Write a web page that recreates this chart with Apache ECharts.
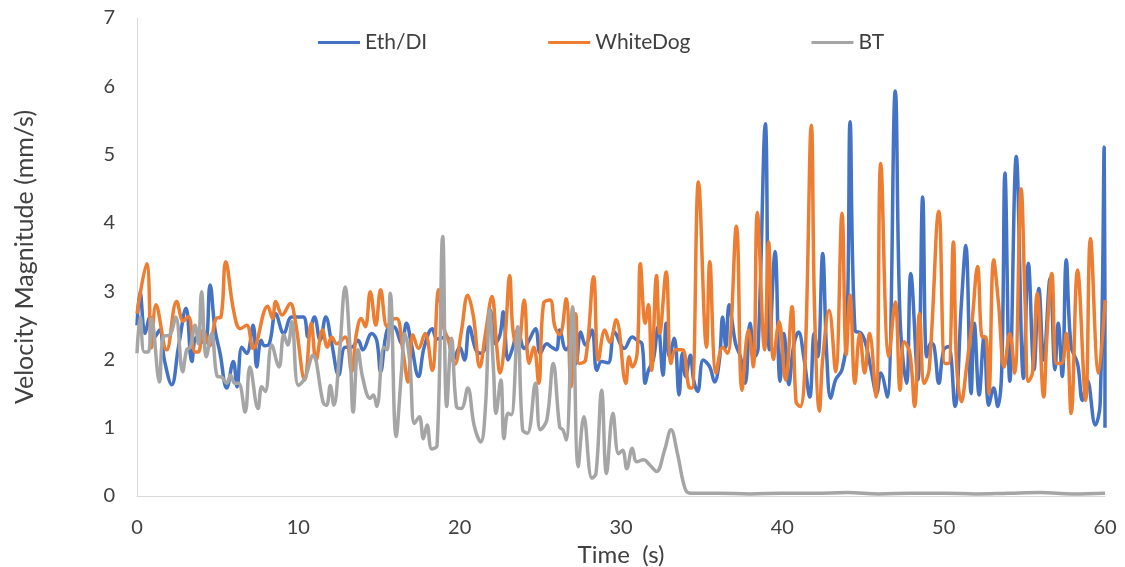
<!DOCTYPE html>
<html lang="en">
<head>
  <meta charset="UTF-8">
  <title>Velocity Magnitude</title>
  <script src="https://cdn.jsdelivr.net/npm/echarts@6/dist/echarts.min.js"></script>
  <style>
    * { margin: 0; padding: 0; }
    #chart { width: 1125px; height: 567px; background: #fff; }
  </style>
</head>
<body>
  <div id="chart"></div>
  <script>
    // [time (s), velocity (mm/s)]
    var ethDI = [
      [0, 2.5], [0.19, 2.99], [0.5, 2.38], [0.8, 2.62], [1.1, 2.33], [1.4, 2.43], [1.7, 1.99], [2.15, 1.63],
      [2.57, 2.18], [3.04, 2.75], [3.4, 1.97], [3.7, 2.33], [4.2, 2.23], [4.53, 3.09], [4.84, 2.43], [5.15, 2.09],
      [5.56, 1.58], [5.97, 1.97], [6.2, 1.6], [6.5, 2.18], [6.8, 2.09], [7.2, 2.5], [7.42, 1.89], [7.7, 2.28],
      [7.9, 2.2], [8.2, 2.23], [8.6, 2.67], [9.1, 2.38], [9.6, 2.62], [10.3, 2.62], [10.6, 2.33], [11.0, 2.62],
      [11.35, 2.28], [11.7, 2.62], [12.07, 2.23], [12.5, 1.77], [12.9, 2.18], [13.3, 2.18], [13.7, 2.28], [14.0, 2.14],
      [14.55, 2.38], [14.86, 2.28], [15.1, 1.82], [15.5, 2.43], [15.9, 2.48], [16.4, 2.23], [16.7, 2.53], [17.0, 2.23],
      [17.45, 1.75], [17.8, 2.18], [18.3, 2.45], [18.6, 2.3], [19.2, 2.33], [19.6, 1.99], [20.0, 2.18], [20.3, 1.99],
      [20.6, 2.48], [21.0, 2.14], [21.3, 2.09], [21.6, 2.18], [21.9, 2.72], [22.2, 2.23], [22.5, 2.36], [22.7, 2.7],
      [23.0, 1.99], [23.3, 2.18], [23.6, 2.43], [24.0, 2.16], [24.3, 2.28], [24.7, 2.45], [25.0, 2.09], [25.4, 2.23],
      [25.7, 2.18], [26.0, 2.14], [26.2, 2.43], [26.6, 2.14], [26.9, 2.23], [27.2, 1.94], [27.5, 2.4], [27.8, 2.21],
      [28.2, 2.43], [28.5, 1.84], [28.8, 1.97], [29.2, 1.95], [29.6, 2.4], [30.2, 2.16], [30.7, 2.33], [31.0, 2.28],
      [31.3, 2.23], [31.5, 1.65], [31.7, 1.84], [32.0, 1.99], [32.3, 2.48], [32.6, 1.77], [32.8, 2.53], [33.0, 2.04],
      [33.3, 2.31], [33.6, 1.48], [33.8, 2.09], [34.0, 1.75], [34.3, 2.06], [34.5, 1.7], [34.75, 1.53], [35.1, 1.99],
      [35.5, 1.89], [35.8, 1.67], [36.1, 1.99], [36.3, 2.62], [36.5, 2.18], [36.7, 2.8], [37.1, 2.23], [37.4, 2.04],
      [37.7, 1.65], [38.0, 2.53], [38.3, 2.04], [38.5, 2.16], [38.95, 5.45], [39.2, 2.14], [39.55, 3.58], [39.86, 1.68],
      [40.1, 2.38], [40.4, 1.63], [40.7, 2.2], [41.0, 2.4], [41.35, 2.0], [41.7, 1.45], [41.98, 2.38], [42.2, 2.04],
      [42.5, 3.55], [42.75, 2.07], [43.0, 1.43], [43.3, 1.7], [43.7, 1.85], [44.0, 2.33], [44.2, 5.48], [44.5, 2.43],
      [44.9, 2.38], [45.2, 2.2], [45.5, 1.85], [45.85, 1.5], [46.1, 1.8], [46.5, 1.45], [47.0, 5.93], [47.3, 2.58],
      [47.7, 1.65], [47.96, 3.26], [48.4, 1.7], [48.7, 4.38], [48.95, 2.04], [49.2, 2.24], [49.4, 2.2], [49.7, 1.65],
      [50.0, 2.14], [50.3, 2.19], [50.7, 1.31], [51.1, 2.82], [51.37, 3.67], [51.7, 1.5], [51.9, 2.53], [52.2, 1.48],
      [52.5, 2.33], [52.8, 1.33], [53.1, 1.58], [53.35, 1.31], [53.6, 1.85], [53.8, 4.73], [54.1, 1.68], [54.5, 4.97],
      [54.95, 1.72], [55.25, 3.41], [55.6, 1.85], [55.9, 3.04], [56.2, 1.99], [56.6, 3.19], [56.9, 1.85], [57.1, 2.53],
      [57.35, 1.75], [57.6, 3.46], [57.9, 2.19], [58.3, 1.94], [58.6, 1.4], [58.9, 1.7], [59.4, 1.04], [59.7, 1.35],
      [59.95, 5.11], [60.0, 1.0]
    ];

    var whiteDog = [
      [0, 2.67], [0.6, 3.4], [0.9, 2.17], [1.18, 2.8], [1.84, 2.14], [2.46, 2.85], [2.87, 2.56], [3.18, 2.63],
      [3.6, 2.11], [3.8, 2.11], [4.1, 2.43], [4.5, 2.2], [4.9, 2.6], [5.2, 2.62], [5.5, 3.43], [6.0, 2.7],
      [6.4, 2.45], [6.8, 2.5], [7.2, 2.16], [8.1, 2.78], [8.4, 2.6], [8.6, 2.85], [9.0, 2.65], [9.5, 2.82],
      [9.8, 2.58], [10.4, 1.7], [10.8, 2.53], [11.1, 1.99], [11.5, 2.43], [11.8, 2.18], [12.07, 2.33], [12.38, 2.23],
      [12.9, 2.33], [13.3, 1.82], [13.6, 2.38], [13.9, 2.6], [14.15, 2.48], [14.46, 2.99], [14.8, 2.5], [15.1, 3.02],
      [15.5, 2.48], [15.8, 2.58], [16.1, 2.6], [16.5, 2.09], [16.8, 1.67], [17.1, 2.36], [17.45, 2.16], [17.85, 2.38],
      [18.3, 1.84], [18.7, 3.02], [19.0, 2.48], [19.3, 2.28], [19.7, 1.93], [20.1, 2.4], [20.5, 2.94], [20.85, 2.63],
      [21.25, 1.89], [21.6, 2.38], [22.0, 2.92], [22.3, 2.18], [22.5, 1.8], [22.8, 2.28], [23.1, 3.23], [23.3, 2.43],
      [23.6, 2.14], [24.0, 2.87], [24.3, 1.94], [24.6, 2.18], [24.9, 1.65], [25.2, 2.82], [25.6, 2.87], [25.9, 2.48],
      [26.2, 2.36], [26.6, 2.89], [26.9, 1.6], [27.2, 2.67], [27.4, 1.94], [27.8, 1.99], [28.3, 3.21], [28.6, 1.99],
      [29.0, 2.43], [29.3, 2.25], [29.7, 2.58], [30.3, 1.65], [30.5, 2.04], [30.7, 1.89], [31.0, 2.09], [31.2, 3.4],
      [31.5, 2.53], [31.7, 2.8], [31.9, 1.84], [32.2, 3.23], [32.4, 2.38], [32.8, 3.28], [33.1, 1.94], [33.4, 2.14],
      [33.8, 2.14], [34.2, 1.6], [34.4, 1.58], [34.8, 4.6], [35.3, 2.18], [35.5, 3.43], [35.9, 1.8], [36.3, 2.18],
      [36.6, 2.09], [37.15, 3.95], [37.5, 1.55], [37.9, 2.43], [38.2, 1.89], [38.45, 4.15], [38.9, 2.14], [39.15, 3.72],
      [39.45, 2.0], [39.8, 2.55], [40.2, 1.7], [40.6, 2.77], [40.85, 1.38], [41.1, 1.31], [41.4, 1.9], [41.8, 5.43],
      [42.0, 2.7], [42.3, 1.24], [42.5, 2.0], [42.9, 2.72], [43.3, 1.82], [43.7, 4.14], [43.96, 2.07], [44.2, 2.94],
      [44.5, 1.65], [44.8, 2.38], [45.1, 1.8], [45.4, 2.38], [45.8, 1.45], [46.1, 4.87], [46.6, 2.04], [47.0, 2.84],
      [47.3, 1.55], [47.55, 2.26], [47.9, 2.1], [48.2, 1.31], [48.5, 2.67], [48.8, 1.65], [49.1, 1.85], [49.7, 4.17],
      [50.08, 1.94], [50.3, 1.94], [50.6, 3.72], [50.8, 1.94], [51.1, 1.38], [51.4, 1.85], [51.75, 2.53], [52.1, 3.36],
      [52.4, 2.33], [52.6, 2.33], [52.8, 1.5], [53.1, 3.46], [53.4, 2.82], [53.75, 1.89], [54.1, 2.38], [54.4, 1.8],
      [54.8, 4.5], [55.05, 2.82], [55.25, 1.68], [55.5, 1.8], [55.8, 2.97], [56.2, 1.45], [56.4, 2.33], [56.7, 3.26],
      [57.0, 1.94], [57.3, 1.94], [57.6, 2.38], [57.9, 1.21], [58.3, 3.31], [58.8, 1.4], [59.1, 3.77], [59.6, 1.8],
      [60.0, 2.87]
    ];

    var bt = [
      [0, 2.09], [0.2, 2.62], [0.45, 2.11], [0.7, 2.11], [0.9, 2.6], [1.39, 1.67], [1.63, 2.33], [2.05, 2.36],
      [2.4, 2.62], [2.83, 1.82], [3.08, 2.14], [3.3, 2.18], [3.6, 2.5], [3.8, 2.23], [4.0, 2.99], [4.3, 2.04],
      [4.63, 2.38], [4.98, 1.75], [5.25, 1.74], [5.56, 1.65], [5.8, 1.77], [6.07, 1.65], [6.3, 1.65], [6.7, 1.23],
      [7.0, 1.89], [7.5, 1.28], [7.73, 1.6], [7.95, 1.53], [8.35, 2.21], [8.8, 1.89], [9.1, 2.36], [9.35, 2.21],
      [9.6, 2.55], [10.0, 1.62], [10.4, 1.72], [10.9, 2.06], [11.55, 1.36], [11.75, 1.33], [11.98, 1.62], [12.2, 1.33],
      [12.55, 2.09], [12.9, 3.06], [13.2, 2.18], [13.4, 1.23], [13.7, 2.14], [14.0, 1.72], [14.45, 1.43], [14.65, 1.48],
      [14.86, 1.31], [15.3, 2.18], [15.5, 2.14], [15.7, 2.97], [16.06, 0.87], [16.4, 1.84], [16.6, 2.38], [16.9, 1.99],
      [17.2, 1.06], [17.5, 1.16], [17.75, 0.84], [17.98, 1.04], [18.27, 0.69], [18.6, 0.74], [18.95, 3.8], [19.2, 1.31],
      [19.5, 2.31], [19.8, 1.31], [20.1, 1.28], [20.5, 1.58], [20.9, 1.03], [21.3, 0.79], [21.6, 1.31], [21.86, 2.72],
      [22.1, 1.84], [22.25, 1.21], [22.55, 1.7], [22.75, 0.84], [23.0, 1.21], [23.2, 1.19], [23.6, 2.48], [23.9, 0.97],
      [24.2, 0.92], [24.7, 1.65], [25.0, 0.97], [25.4, 1.11], [25.8, 1.94], [26.2, 1.01], [26.4, 0.97], [26.6, 0.82],
      [27.0, 2.77], [27.35, 0.43], [27.7, 1.16], [28.2, 0.26], [28.45, 0.33], [28.8, 1.55], [29.1, 0.33], [29.5, 1.21],
      [29.85, 0.62], [30.1, 0.67], [30.36, 0.4], [30.7, 0.7], [30.98, 0.5], [31.4, 0.53], [31.8, 0.45], [32.2, 0.36],
      [32.7, 0.67], [33.1, 0.97], [33.5, 0.62], [33.97, 0.11], [34.3, 0.04], [36, 0.04], [38, 0.03], [40, 0.04],
      [42, 0.04], [44, 0.05], [46, 0.03], [48, 0.04], [50, 0.04], [52, 0.03], [54, 0.04], [56, 0.05],
      [58, 0.03], [60, 0.04]
    ];

    var seriesNames = ['Eth/DI', 'WhiteDog', 'BT'];
    var seriesColors = ['#4472C4', '#ED7D31', '#A5A5A5'];
    var seriesData = [ethDI, whiteDog, bt];

    var chart = echarts.init(document.getElementById('chart'));
    var textColor = '#404040';
    var font = 'Lato, "Open Sans", sans-serif';

    chart.setOption({
      animation: false,
      textStyle: { fontFamily: font },
      grid: { left: 137, right: 20, top: 18, bottom: 71, outerBoundsMode: 'none' },
      legend: {
        data: seriesNames,
        left: 313,
        top: 27,
        icon: 'rect',
        itemWidth: 42,
        itemHeight: 3,
        itemGap: 121,
        textStyle: { color: textColor, fontSize: 21, fontFamily: font }
      },
      xAxis: {
        type: 'value',
        min: 0,
        max: 60,
        interval: 10,
        name: 'Time  (s)',
        nameLocation: 'middle',
        nameGap: 42,
        nameTextStyle: { color: textColor, fontSize: 24, fontFamily: font },
        axisLine: { lineStyle: { color: '#d9d9d9', width: 1 } },
        axisTick: { show: false },
        axisLabel: { color: textColor, fontSize: 20, margin: 22 },
        splitLine: { show: false }
      },
      yAxis: {
        type: 'value',
        min: 0,
        max: 7,
        interval: 1,
        name: 'Velocity Magnitude (mm/s)',
        nameLocation: 'middle',
        nameGap: 100,
        nameTextStyle: { color: textColor, fontSize: 25, fontFamily: font },
        axisLine: { show: true, lineStyle: { color: '#d9d9d9', width: 1 } },
        axisTick: { show: false },
        axisLabel: { color: textColor, fontSize: 20, margin: 22 },
        splitLine: { show: false }
      },
      series: seriesNames.map(function (name, i) {
        return {
          name: name,
          type: 'line',
          smooth: 0.4,
          showSymbol: false,
          data: seriesData[i],
          itemStyle: { color: seriesColors[i] },
          lineStyle: { color: seriesColors[i], width: 3.5 }
        };
      })
    });
  </script>
</body>
</html>
